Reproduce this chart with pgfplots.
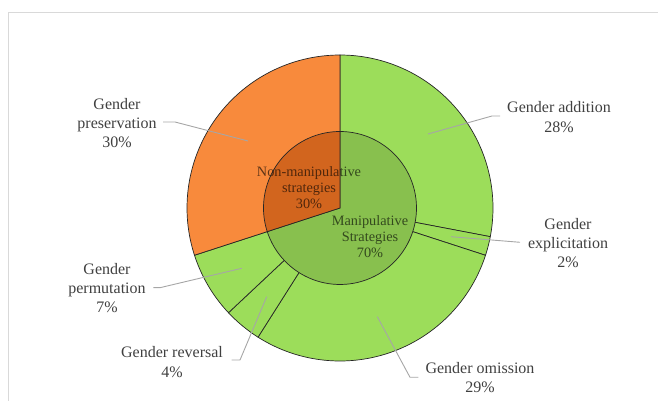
\documentclass[border=0pt]{standalone}
\usepackage{pgfplots}
\pgfplotsset{compat=1.18}
\usepackage{pgfplotstable}
\usepgfplotslibrary{polar}
\usepackage{fontspec}
\setmainfont{Liberation Serif}

\definecolor{outgreen}{HTML}{9CDD5A}
\definecolor{ingreen}{HTML}{88C04E}
\definecolor{outorange}{HTML}{F88A3C}
\definecolor{inorange}{HTML}{D2651E}
\definecolor{labeltext}{HTML}{404040}
\definecolor{leader}{HTML}{A6A6A6}
\definecolor{frame}{HTML}{D9D9D9}

% Outer ring: individual strategies (percent), clockwise from 12 o'clock
\pgfplotstableread{
pct col
28 outgreen
2  outgreen
29 outgreen
4  outgreen
7  outgreen
30 outorange
}\outerdata

% Inner pie: strategy groups (percent)
\pgfplotstableread{
pct col
70 ingreen
30 inorange
}\innerdata

\begin{document}
\begin{tikzpicture}[x=1pt,y=1pt]
\useasboundingbox (0,0) rectangle (658,401);
% chart area frame
\draw[frame, line width=0.9pt] (8,0) -- (8,389) -- (658,389);

\begin{polaraxis}[
  at={(340pt,193pt)}, anchor=center,
  scale only axis, width=306pt, height=306pt,
  ymin=0, ymax=153, hide axis, clip=false,
]
  % outer ring sectors (drawn to the centre, inner pie covers the middle)
  \def\startangle{90}
  \pgfplotsforeachungrouped \i in {0,...,5}{
    \pgfplotstablegetelem{\i}{pct}\of\outerdata
    \pgfmathsetmacro\endangle{\startangle-3.6*\pgfplotsretval}
    \pgfplotstablegetelem{\i}{col}\of\outerdata
    \edef\temp{\noexpand\addplot[fill=\pgfplotsretval, draw=black!85, line width=0.7pt,
      domain=\endangle:\startangle, samples=80, mark=none]
      {153} -- (axis cs:0,0) -- cycle;}
    \temp
    \let\startangle\endangle
  }
  % inner pie sectors
  \def\startangle{90}
  \pgfplotsforeachungrouped \i in {0,1}{
    \pgfplotstablegetelem{\i}{pct}\of\innerdata
    \pgfmathsetmacro\endangle{\startangle-3.6*\pgfplotsretval}
    \pgfplotstablegetelem{\i}{col}\of\innerdata
    \edef\temp{\noexpand\addplot[fill=\pgfplotsretval, draw=black!85, line width=0.7pt,
      domain=\endangle:\startangle, samples=80, mark=none]
      {76.5} -- (axis cs:0,0) -- cycle;}
    \temp
    \let\startangle\endangle
  }
\end{polaraxis}

% leader lines
\begin{scope}[leader, line width=0.9pt]
  \draw (428,267) -- (492,285) -- (500,285);
  \draw (451,164.3) -- (520,158.7);
  \draw (248,260) -- (175,279) -- (163,279);
  \draw (241.7,132.7) -- (160,113.3) -- (153.3,113.3);
  \draw (266.7,104.3) -- (240,41) -- (231.7,41);
  \draw (377.3,84.3) -- (410,23.7) -- (418.3,23.7);
\end{scope}

% outer labels
\begin{scope}[every node/.style={text=labeltext, align=center, inner sep=0pt,
    font=\fontsize{16}{19.3}\selectfont}]
  \node at (559,284) {Gender addition\\28\%};
  \node at (568,158) {Gender\\explicitation\\2\%};
  \node at (117,278) {Gender\\preservation\\30\%};
  \node at (107,113) {Gender\\permutation\\7\%};
  \node at (172,39) {Gender reversal\\4\%};
  \node at (480,23.5) {Gender omission\\29\%};
\end{scope}

% inner labels
\begin{scope}[every node/.style={text=black, text opacity=0.62, align=center, inner sep=0pt,
    font=\fontsize{14.3}{16}\selectfont}]
  \node at (309,213) {Non-manipulative\\strategies\\30\%};
  \node at (370,164) {Manipulative\\Strategies\\70\%};
\end{scope}
\end{tikzpicture}
\end{document}
